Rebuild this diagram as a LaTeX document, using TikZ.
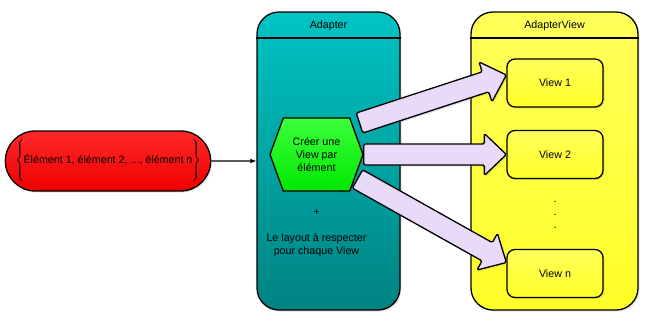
\documentclass[tikz,border=0pt]{standalone}
\usepackage{fontspec}
\setmainfont{Liberation Sans}
\usetikzlibrary{calc,positioning,shapes.misc,shapes.symbols,shadows}

\definecolor{tealtop}{RGB}{0,196,196}
\definecolor{tealbot}{RGB}{0,130,130}
\definecolor{yellowtop}{RGB}{255,255,90}
\definecolor{yellowbot}{RGB}{255,255,40}
\definecolor{redtop}{RGB}{255,40,40}
\definecolor{redbot}{RGB}{238,0,0}
\definecolor{greentop}{RGB}{60,255,60}
\definecolor{greenbot}{RGB}{0,232,0}
\definecolor{lilac}{RGB}{232,218,248}

% fat arrow between two named points: shaft 21pt, head 42pt wide, 22pt long
\newcommand{\bigarrow}[2]{%
  \draw[bigarrow] ($(#1)!10.5pt!90:(#2)$)
    -- ($(#2)!22pt!(#1)!10.5pt!-90:(#1)$)
    -- ($(#2)!22pt!(#1)!21pt!-90:(#1)$)
    -- (#2)
    -- ($(#2)!22pt!(#1)!21pt!90:(#1)$)
    -- ($(#2)!22pt!(#1)!10.5pt!90:(#1)$)
    -- ($(#1)!10.5pt!-90:(#2)$) -- cycle;}

\tikzset{
  softshadow/.style={drop shadow={opacity=0.22,shadow xshift=1.5pt,shadow yshift=-1.5pt}},
  panel/.style={draw,line width=1.3pt,rounded corners=22pt,minimum height=298pt,softshadow},
  viewbox/.style={draw,line width=1.3pt,rounded corners=8pt,minimum width=96pt,minimum height=48pt,
    top color=yellowtop,bottom color=yellowbot,softshadow},
  listpill/.style={rounded rectangle,draw,line width=1.3pt,minimum width=200pt,minimum height=60pt,
    inner sep=1pt,top color=redtop,bottom color=redbot,softshadow},
  hexbox/.style={signal,signal to=east and west,signal pointer angle=140,draw,line width=1.3pt,
    minimum width=93pt,minimum height=73pt,inner sep=0pt,align=center,
    top color=greentop,bottom color=greenbot,softshadow},
  bigarrow/.style={draw,line width=1.3pt,fill=lilac,rounded corners=1.5pt,softshadow},
}

\begin{document}
\begin{tikzpicture}[x=1pt,y=-1pt,every node/.style={font=\fontsize{10.7}{13}\selectfont}]
\useasboundingbox (0,0) rectangle (652,324);

% the list of elements
\node[listpill] (elems) at (108,161)
  {$\left\{\rule[-19pt]{0pt}{38pt}\right.\!$Élément 1, élément 2, ..., élément n$\!\left.\rule[-19pt]{0pt}{38pt}\right\}$};

% adapter
\node[panel,minimum width=143pt,top color=tealtop,bottom color=tealbot] (adapter) at (328.5,161) {};
\draw[line width=1.3pt] (adapter.west |- 0,38) -- (adapter.east |- 0,38);
\node (adtitle) at (328.5,25.5) {Adapter};

\draw[-latex,line width=1.1pt] (elems) -- (adapter);

% adapter view
\node[panel,minimum width=167pt,top color=yellowtop,bottom color=yellowbot] (adview) at (554.5,161) {};
\draw[line width=1.3pt] (adview.west |- 0,38) -- (adview.east |- 0,38);
\node (avtitle) at (554.5,25.5) {AdapterView};

\node[hexbox] (hex) at (316.5,154.5) {Créer une\\View par\\élément};
\node (plus) at (316.5,212) {+};
\node[align=center] (layout) at (316.5,245.5) {Le layout à respecter\\pour chaque View};

\node[viewbox] (v1) at (555,83) {View 1};
\node[viewbox] (v2) at (555,154.5) {View 2};
\node[align=center] (dots) at (555,215) {.\\.\\.};
\node[viewbox] (vn) at (555,273.5) {View n};

% one view per element
\coordinate (a1) at ([xshift=43pt,yshift=31.5pt]hex.center);
\coordinate (a3) at ([xshift=41pt,yshift=-24.5pt]hex.center);
\coordinate (t1) at ([yshift=8pt]v1.west);
\coordinate (t3) at ([yshift=11pt]vn.west);
\bigarrow{a1}{t1}
\bigarrow{hex.east}{v2.west}
\bigarrow{a3}{t3}
\end{tikzpicture}
\end{document}
